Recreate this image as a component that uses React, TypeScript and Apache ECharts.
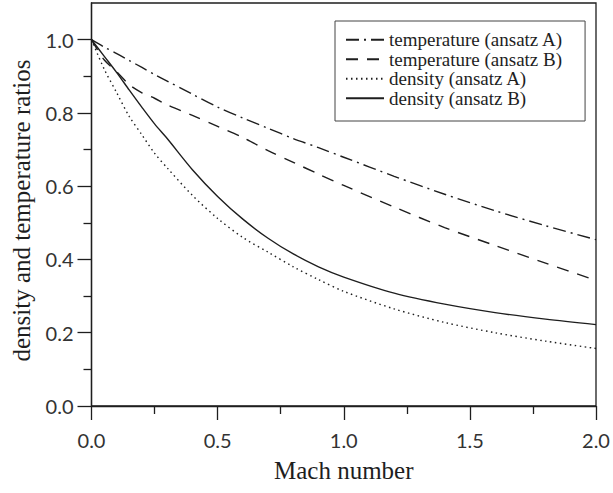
import React, { useEffect, useRef } from "react";
import * as echarts from "echarts";

const machValues = [0, 0.05, 0.1, 0.15, 0.2, 0.25, 0.3, 0.4, 0.5, 0.6, 0.7, 0.8, 0.9, 1.0, 1.2, 1.4, 1.6, 1.8, 2.0];
const temperatureA = [1.0, 0.98, 0.962, 0.943, 0.924, 0.905, 0.887, 0.851, 0.816, 0.786, 0.758, 0.73, 0.705, 0.679, 0.627, 0.578, 0.533, 0.492, 0.454];
const temperatureB = [1.0, 0.945, 0.912, 0.877, 0.855, 0.84, 0.822, 0.793, 0.763, 0.733, 0.697, 0.665, 0.633, 0.602, 0.543, 0.487, 0.438, 0.39, 0.343];
const densityA = [1.0, 0.92, 0.855, 0.79, 0.74, 0.69, 0.65, 0.575, 0.512, 0.46, 0.42, 0.38, 0.345, 0.313, 0.265, 0.228, 0.2, 0.177, 0.157];
const densityB = [1.0, 0.955, 0.91, 0.862, 0.815, 0.77, 0.73, 0.645, 0.572, 0.51, 0.458, 0.415, 0.38, 0.352, 0.308, 0.278, 0.255, 0.237, 0.222];

const seriesNames = [
  "temperature (ansatz A)",
  "temperature (ansatz B)",
  "density (ansatz A)",
  "density (ansatz B)",
];
const xMajorTicks = [0, 0.5, 1.0, 1.5, 2.0];
const xMinorTicks = [0.25, 0.75, 1.25, 1.75];
const yMajorTicks = [0, 0.2, 0.4, 0.6, 0.8, 1.0];
const yMinorTicks = [0.1, 0.3, 0.5, 0.7, 0.9];

const INK = "#1e1e1e";
const SERIF = "'Liberation Serif', 'Times New Roman', serif";
const SANS = "Lato, 'DejaVu Sans', sans-serif";

export default function App() {
  const ref = useRef<HTMLDivElement>(null);
  useEffect(() => {
    if (!ref.current) return;
    const chart = echarts.init(ref.current, undefined, { renderer: "svg", width: 613, height: 493 });
    const pairs = (vals: number[]) => machValues.map((m, i) => [m, vals[i]]);
    const lineTypes: any[] = [[13, 5, 2, 5], [12, 9], [1.5, 3.5], "solid"];
    const allVals = [temperatureA, temperatureB, densityA, densityB];
    const axisLineStyle = { color: INK, width: 1.3 };
    chart.setOption({
      animation: false,
      backgroundColor: "#fff",
      grid: {
        left: 91.5,
        top: 3,
        right: 17,
        bottom: 87,
        containLabel: false,
        outerBoundsMode: "none",
        show: true,
        borderColor: INK,
        borderWidth: 1.3,
        backgroundColor: "transparent",
      },
      legend: {
        orient: "vertical",
        left: 335,
        top: 21,
        padding: [9, 22, 13, 10],
        itemWidth: 38,
        itemHeight: 10,
        itemGap: 0,
        borderColor: "#444",
        borderWidth: 1,
        backgroundColor: "#fff",
        itemStyle: { color: "transparent", borderColor: "transparent", borderWidth: 0, opacity: 0 },
        textStyle: { fontFamily: SERIF, fontSize: 19, color: INK, lineHeight: 19.5 },
        data: seriesNames,
      },
      xAxis: [
        {
          type: "value",
          min: 0,
          max: 2,
          interval: 0.5,
          name: "Mach number",
          nameLocation: "middle",
          nameGap: 52,
          nameTextStyle: { fontFamily: SERIF, fontSize: 25, color: INK },
          axisLine: { show: true, lineStyle: axisLineStyle },
          axisTick: { show: true, inside: false, length: 14, lineStyle: axisLineStyle, customValues: xMajorTicks },
          axisLabel: {
            customValues: xMajorTicks,
            margin: 24,
            fontFamily: SANS,
            fontSize: 20,
            color: "#333",
            formatter: (v: number) => v.toFixed(1),
          },
          splitLine: { show: false },
        },
        {
          type: "value",
          position: "bottom",
          min: 0,
          max: 2,
          interval: 0.25,
          axisLine: { show: false },
          axisTick: { show: true, inside: false, length: 8, lineStyle: axisLineStyle, customValues: xMinorTicks },
          axisLabel: { show: false },
          splitLine: { show: false },
        },
      ],
      yAxis: [
        {
          type: "value",
          min: 0,
          max: 1.1,
          interval: 0.2,
          name: "density and temperature ratios",
          nameLocation: "middle",
          nameGap: 58,
          nameTextStyle: { fontFamily: SERIF, fontSize: 25, color: INK, padding: [0, 12, 0, 0] },
          axisLine: { show: true, lineStyle: axisLineStyle },
          axisTick: { show: true, inside: false, length: 14, lineStyle: axisLineStyle, customValues: yMajorTicks },
          axisLabel: {
            customValues: yMajorTicks,
            margin: 18,
            fontFamily: SANS,
            fontSize: 20,
            color: "#333",
            formatter: (v: number) => v.toFixed(1),
          },
          splitLine: { show: false },
        },
        {
          type: "value",
          position: "left",
          min: 0,
          max: 1.1,
          interval: 0.1,
          axisLine: { show: false },
          axisTick: { show: true, inside: false, length: 8, lineStyle: axisLineStyle, customValues: yMinorTicks },
          axisLabel: { show: false },
          splitLine: { show: false },
        },
      ],
      series: seriesNames.map((name, i) => ({
        name,
        type: "line",
        xAxisIndex: 0,
        yAxisIndex: 0,
        data: pairs(allVals[i]),
        smooth: 0.3,
        showSymbol: false,
        symbol: "none",
        color: INK,
        lineStyle: { color: INK, width: 1.4, type: lineTypes[i] },
        z: 3,
      })),
    });
    return () => chart.dispose();
  }, []);
  return <div ref={ref} style={{ width: 613, height: 493, position: "absolute", left: 0, top: 0 }} />;
}
